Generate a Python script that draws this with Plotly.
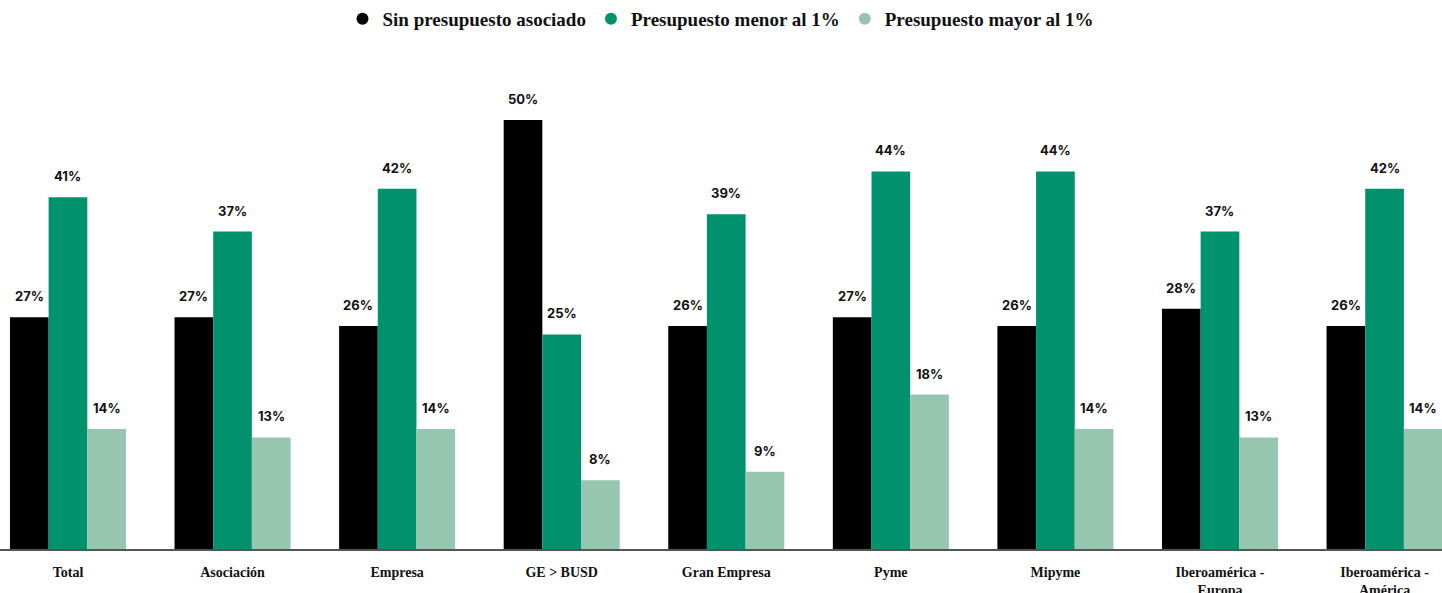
import plotly.graph_objects as go

categories = ["Total", "Asociación", "Empresa", "GE > BUSD", "Gran Empresa",
              "Pyme", "Mipyme", "Iberoamérica -<br>Europa", "Iberoamérica -<br>América"]
sin_presupuesto = [27, 27, 26, 50, 26, 27, 26, 28, 26]
menor_1 = [41, 37, 42, 25, 39, 44, 44, 37, 42]
mayor_1 = [14, 13, 14, 8, 9, 18, 14, 13, 14]

series = [
    ("Sin presupuesto asociado", sin_presupuesto, "#000000"),
    ("Presupuesto menor al 1%", menor_1, "#00926C"),
    ("Presupuesto mayor al 1%", mayor_1, "#96C6B0"),
]

BARGAP = 0.295
label_font = dict(family="Inter, 'Open Sans', sans-serif", size=13, color="#111111", weight=700)
serif_family = "'Liberation Serif', 'DejaVu Serif', serif"

fig = go.Figure()
n_series = len(series)
bar_w = (1 - BARGAP) / n_series
for k, (name, vals, color) in enumerate(series):
    fig.add_trace(go.Bar(
        x=categories, y=vals, name=name, marker_color=color, marker_line_width=0,
        showlegend=False, hoverinfo="x+y",
    ))
    # circular legend swatch
    fig.add_trace(go.Scatter(
        x=[None], y=[None], mode="markers", name=name,
        marker=dict(symbol="circle", size=17, color=color), showlegend=True,
    ))
    # value labels above each bar of this series
    offset = (k - (n_series - 1) / 2) * bar_w
    for i, v in enumerate(vals):
        fig.add_annotation(
            x=i + offset, y=v, xref="x", yref="y", text=f"{v}%",
            showarrow=False, yanchor="bottom", xanchor="center", yshift=11,
            font=label_font,
        )

fig.update_layout(
    width=1442, height=593,
    margin=dict(l=0, r=0, t=80, b=44, autoexpand=False),
    paper_bgcolor="white", plot_bgcolor="white",
    barmode="group", bargap=BARGAP, bargroupgap=0,
    legend=dict(orientation="h", x=0.5, xanchor="center", yref="container",
                y=1.0, yanchor="top",
                font=dict(family=serif_family, size=19, color="#111111", weight=700),
                itemsizing="constant", traceorder="normal"),
    xaxis=dict(range=[-0.413, 8.349], showline=True, linecolor="#555555", linewidth=1.5,
               ticks="", automargin=False,
               tickfont=dict(family=serif_family, size=14, color="#111111", weight=700),
               ticklabelstandoff=9, showgrid=False, zeroline=False, fixedrange=True),
    yaxis=dict(range=[0, 54.66], visible=False, showgrid=False, zeroline=False,
               fixedrange=True, automargin=False),
)

fig.write_html("out.html")
